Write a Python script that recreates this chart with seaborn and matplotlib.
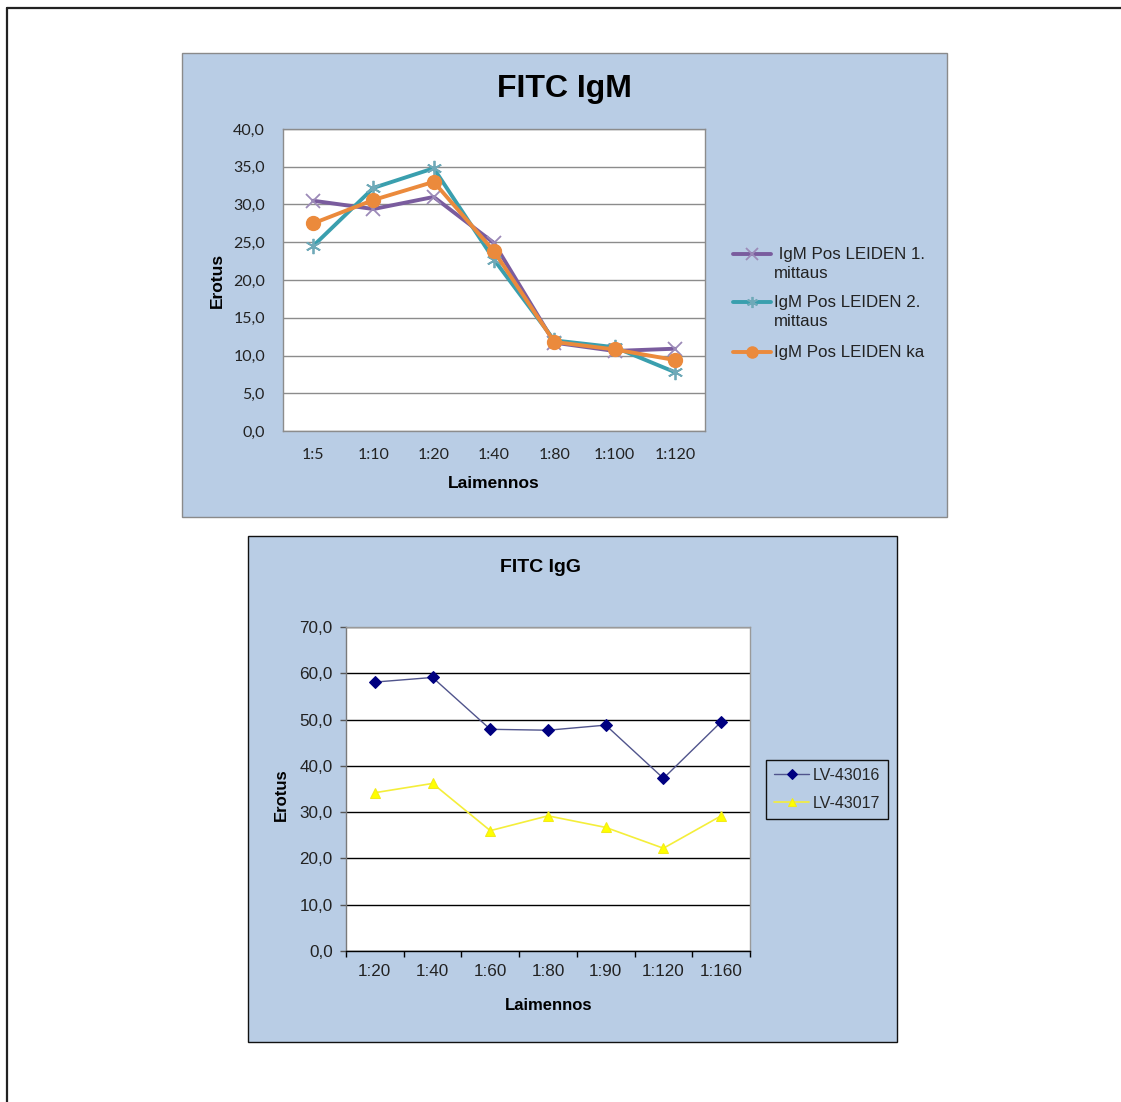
import matplotlib
matplotlib.use("Agg")
import matplotlib.pyplot as plt
import seaborn as sns
from matplotlib.lines import Line2D
from matplotlib.patches import Rectangle
from matplotlib.ticker import FuncFormatter, FixedLocator, MultipleLocator

# ---- data -------------------------------------------------------------
igm_dilutions = ["1:5", "1:10", "1:20", "1:40", "1:80", "1:100", "1:120"]
igm_meas1 = [30.5, 29.4, 31.0, 24.9, 11.7, 10.6, 10.9]
igm_meas2 = [24.5, 32.2, 34.8, 22.7, 12.0, 11.1, 7.8]
igm_mean = [27.5, 30.6, 33.0, 23.8, 11.8, 10.8, 9.4]
igm_labels = [" IgM Pos LEIDEN 1.\nmittaus", "IgM Pos LEIDEN 2.\nmittaus",
              "IgM Pos LEIDEN ka"]

igg_dilutions = ["1:20", "1:40", "1:60", "1:80", "1:90", "1:120", "1:160"]
igg_lv43016 = [58.1, 59.1, 47.9, 47.7, 48.8, 37.3, 49.5]
igg_lv43017 = [34.2, 36.2, 26.0, 29.2, 26.7, 22.2, 29.2]
igg_labels = ["LV-43016", "LV-43017"]

# ---- styling ------------------------------------------------------------
sns.set_theme(style="white")
plt.rcParams["font.family"] = ["Liberation Sans", "DejaVu Sans"]

W, H = 1121, 1102
fig = plt.figure(figsize=(W / 100, H / 100), dpi=100)
fig.patch.set_facecolor("white")


def fx(px):
    return px / W


def fy(py):
    return 1 - py / H


def rect(x0, y0, x1, y1):
    return [fx(x0), fy(y1), (x1 - x0) / W, (y1 - y0) / H]


PANEL = "#B9CDE5"
comma = FuncFormatter(lambda v, _: f"{v:.1f}".replace(".", ","))

# page frame (left and top edges)
fig.add_artist(Line2D([fx(7), fx(7)], [fy(8), 0], transform=fig.transFigure,
                      color="#222222", lw=1.6))
fig.add_artist(Line2D([fx(7), 1], [fy(8), fy(8)], transform=fig.transFigure,
                      color="#222222", lw=1.6))

# chart backgrounds
fig.add_artist(Rectangle((fx(182), fy(517)), 765 / W, 464 / H, transform=fig.transFigure,
                         facecolor=PANEL, edgecolor="#8a8a8a", lw=1.0, zorder=-1))
fig.add_artist(Rectangle((fx(248), fy(1042)), 649 / W, 506 / H, transform=fig.transFigure,
                         facecolor=PANEL, edgecolor="#111111", lw=1.0, zorder=-1))

# ---- FITC IgM -----------------------------------------------------------
igm_colors = ["#7A5C9E", "#3A9FAE", "#EB8A3C"]
igm_edge = ["#9C8AB8", "#6FA9B8", "#EB8A3C"]
igm_markers = ["x", (6, 2, 0), "o"]
igm_msize = [10, 11, 10]
igm_mew = [1.3, 1.3, 1.0]

ax1 = fig.add_axes(rect(283, 129, 705, 431))
ax1.set_facecolor("white")
for vals, c, ec, m, ms, mew in zip([igm_meas1, igm_meas2, igm_mean], igm_colors,
                                   igm_edge, igm_markers, igm_msize, igm_mew):
    sns.lineplot(x=igm_dilutions, y=vals, ax=ax1, color=c, lw=2.8, marker=m,
                 markersize=ms, markeredgecolor=ec, markerfacecolor=c,
                 markeredgewidth=mew, sort=False, legend=False, errorbar=None)
ax1.set_xlim(-0.5, 6.5)
ax1.set_ylim(0, 40)
ax1.yaxis.set_major_locator(MultipleLocator(5))
ax1.yaxis.set_major_formatter(comma)
ax1.grid(axis="y", color="#8c8c8c", lw=1.0)
ax1.grid(axis="x", visible=False)
for s in ax1.spines.values():
    s.set_color("#8c8c8c")
    s.set_linewidth(1.0)
ax1.tick_params(axis="y", length=0, pad=13, labelsize=11.5, labelcolor="#222222")
ax1.tick_params(axis="x", length=0, pad=12, labelsize=11.5, labelcolor="#222222")
for t in ax1.get_xticklabels() + ax1.get_yticklabels():
    t.set_fontfamily(["Lato", "DejaVu Sans"])
ax1.set_title("FITC IgM", fontsize=23, fontweight="bold", color="black",
              x=(564 - 283) / 422, y=(431 - 89) / 302, va="center", pad=0)
ax1.set_xlabel("Laimennos", fontsize=12.5, fontweight="bold", color="black")
ax1.xaxis.set_label_coords(0.5, (431 - 483) / 302)
ax1.xaxis.label.set_va("center")
ax1.set_ylabel("Erotus", fontsize=12.5, fontweight="bold", color="black")
ax1.yaxis.set_label_coords((217 - 283) / 422, (431 - 280) / 302)
ax1.yaxis.label.set_va("center")

# legend for the IgM chart
legend_rows = [254, 302, 352]
for lab, c, ec, m, mew, yrow in zip(igm_labels, igm_colors, igm_edge, igm_markers,
                                    igm_mew, legend_rows):
    fig.add_artist(Line2D([fx(733), fx(752), fx(771)], [fy(yrow)] * 3,
                          transform=fig.transFigure, color=c, lw=2.8, marker=m,
                          markevery=[1], markersize=8, markeredgecolor=ec,
                          markerfacecolor=c, markeredgewidth=mew))
    fig.text(fx(774), fy(yrow - 7), lab, ha="left", va="top", fontsize=12.2,
             color="#222222", linespacing=1.3, transform=fig.transFigure)

# ---- FITC IgG -----------------------------------------------------------
ax2 = fig.add_axes(rect(346, 627, 750, 951))
ax2.set_facecolor("white")
sns.lineplot(x=igg_dilutions, y=igg_lv43016, ax=ax2, color="#50548C", lw=1.0,
             marker="D", markersize=6, markerfacecolor="#000080",
             markeredgecolor="#000080", sort=False, errorbar=None,
             label=igg_labels[0])
sns.lineplot(x=igg_dilutions, y=igg_lv43017, ax=ax2, color="#F4EE3A", lw=1.2,
             marker="^", markersize=7, markerfacecolor="#FFFF00",
             markeredgecolor="#F2EA1A", sort=False, errorbar=None,
             label=igg_labels[1])
ax2.set_xlim(-0.5, 6.5)
ax2.set_ylim(0, 70)
ax2.yaxis.set_major_locator(MultipleLocator(10))
ax2.yaxis.set_major_formatter(comma)
ax2.xaxis.set_minor_locator(FixedLocator([i - 0.5 for i in range(len(igg_dilutions) + 1)]))
ax2.grid(axis="y", color="black", lw=1.0)
ax2.grid(axis="x", visible=False)
ax2.spines["left"].set_color("#7a7a7a")
ax2.spines["bottom"].set_color("black")
ax2.spines["top"].set_color("#9a9a9a")
ax2.spines["right"].set_color("#9a9a9a")
for s in ax2.spines.values():
    s.set_linewidth(1.0)
ax2.tick_params(axis="y", which="major", direction="out", length=4.5, width=1,
                color="#555555", pad=5, labelsize=12.3, labelcolor="#222222", left=True)
ax2.tick_params(axis="x", which="major", length=0, pad=9.5, labelsize=12.3,
                labelcolor="#222222")
ax2.tick_params(axis="x", which="minor", direction="out", length=4, width=1,
                color="black", bottom=True)
ax2.set_title("FITC IgG", fontsize=14, fontweight="bold", color="black",
              x=(540 - 346) / 404, y=(951 - 567) / 324, va="center", pad=0)
ax2.set_xlabel("Laimennos", fontsize=12, fontweight="bold", color="black")
ax2.xaxis.set_label_coords((549 - 346) / 404, (951 - 1005) / 324)
ax2.xaxis.label.set_va("center")
ax2.set_ylabel("Erotus", fontsize=12, fontweight="bold", color="black")
ax2.yaxis.set_label_coords((281 - 346) / 404, (951 - 795) / 324)
ax2.yaxis.label.set_va("center")

leg = ax2.legend(loc="upper left", bbox_to_anchor=(fx(766), fy(760)),
                 bbox_transform=fig.transFigure, borderaxespad=0, fontsize=11.5,
                 frameon=True, fancybox=False, handlelength=2.2, handletextpad=0.2,
                 labelspacing=0.8, borderpad=0.5, markerscale=0.8)
leg.get_frame().set_edgecolor("#111111")
leg.get_frame().set_facecolor(PANEL)
leg.get_frame().set_alpha(1)
leg.get_frame().set_linewidth(1.0)

fig.savefig("out.png", dpi=100)
